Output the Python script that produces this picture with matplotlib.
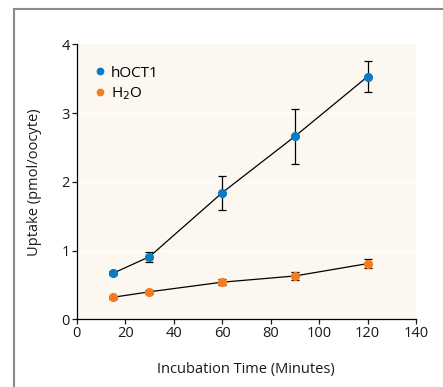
import matplotlib.pyplot as plt
from matplotlib.lines import Line2D

plt.rcParams['font.family'] = ['Open Sans', 'DejaVu Sans']

# data
minutes = [15, 30, 60, 90, 120]
hoct1 = [0.67, 0.91, 1.84, 2.66, 3.53]
hoct1_err = [0.03, 0.07, 0.25, 0.40, 0.22]
water = [0.32, 0.40, 0.54, 0.63, 0.81]
water_err = [0.02, 0.03, 0.04, 0.06, 0.07]

blue = '#0a7cc4'
orange = '#f47b20'

fig = plt.figure(figsize=(4.43, 3.87), dpi=100)
ax = fig.add_axes([76.7 / 443, 1 - 319.3 / 387, (416 - 76.7) / 443, (319.3 - 44.3) / 387])
ax.set_facecolor('#fcf8f1')

# gray outer frame (left and top only visible)
fig.add_artist(Line2D([13.5 / 443, 13.5 / 443], [0, 1 - 9 / 387], color='#8a8a8a', lw=1.5,
                      transform=fig.transFigure))
fig.add_artist(Line2D([13.5 / 443, 1], [1 - 9 / 387, 1 - 9 / 387], color='#8a8a8a', lw=1.5,
                      transform=fig.transFigure))

for yv in [1, 2, 3]:
    ax.axhline(yv, color='white', lw=1.0, zorder=0)

ax.errorbar(minutes, hoct1, yerr=hoct1_err, color='black', lw=0.9, capsize=3, capthick=0.9,
            elinewidth=0.9, zorder=2)
ax.errorbar(minutes, water, yerr=water_err, color='black', lw=0.9, capsize=3, capthick=0.9,
            elinewidth=0.9, zorder=2)
ax.plot(minutes, hoct1, 'o', color=blue, ms=6.6, mec='none', zorder=3, label='hOCT1')
ax.plot(minutes, water, 'o', color=orange, ms=6.6, mec='none', zorder=3, label='H$_2$O')

ax.set_xlim(0, 140)
ax.set_ylim(0, 4)
ax.set_xticks(range(0, 141, 20))
ax.set_yticks([0, 1, 2, 3, 4])
for s in ['top', 'right']:
    ax.spines[s].set_visible(False)
for s in ['left', 'bottom']:
    ax.spines[s].set_linewidth(0.9)
ax.tick_params(direction='out', length=3.5, width=0.9, labelsize=10.5, pad=1.5, colors='#1a1a1a')

ax.set_xlabel('Incubation Time (Minutes)', fontsize=10.5, labelpad=15, color='#1a1a1a')
ax.set_ylabel('Uptake (pmol/oocyte)', fontsize=10.5, labelpad=14, color='#1a1a1a')

ax.legend(loc='upper left', bbox_to_anchor=(0.027, 0.945), frameon=False, fontsize=11,
          handletextpad=0.25, labelspacing=0.3, handlelength=1.0, borderaxespad=0,
          markerscale=0.85)

fig.savefig('out.png', dpi=100)
